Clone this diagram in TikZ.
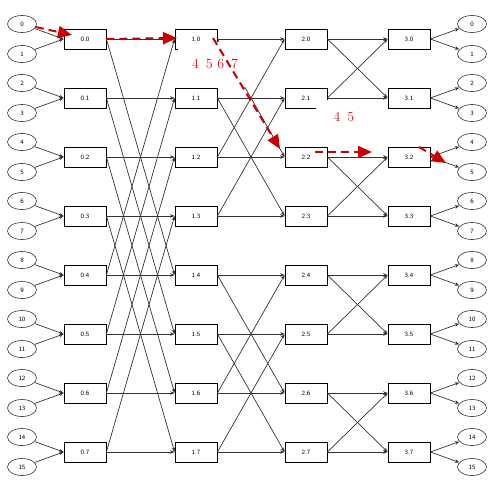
\documentclass[tikz,border=0pt]{standalone}
\usepackage{tikz}
\usetikzlibrary{shapes.geometric, arrows.meta}

\begin{document}
\begin{tikzpicture}[x=1pt, y=-1pt,
    sw/.style={rectangle, draw, line width=0.8pt, minimum width=42pt, minimum height=20pt, inner sep=0pt, font=\sffamily\fontsize{6.5}{7}\selectfont},
    port/.style={ellipse, draw=black!80, line width=0.6pt, minimum width=29pt, minimum height=17pt, inner sep=0pt, font=\sffamily\fontsize{6.5}{7}\selectfont},
    link/.style={-{Stealth[length=4.5pt,width=3.5pt]}, line width=0.7pt, black!80},
    route/.style={line width=2pt, red!80!black, dash pattern=on 8pt off 5pt, -{Triangle[length=14pt,width=12pt]}},
    hop/.style={fill=white, text=red, font=\fontsize{14}{16}\selectfont}]
    \useasboundingbox (0,0) rectangle (500,488);

    % Switches, stages 0 to 3
    \foreach \i in {0,...,7} {
        \node[sw] (SW0\i) at (85,39+59*\i) {0.\i};
        \node[sw] (SW1\i) at (196,39+59*\i) {1.\i};
        \node[sw] (SW2\i) at (306,39+59*\i) {2.\i};
        \node[sw] (SW3\i) at (409,39+59*\i) {3.\i};
    }

    % Inputs and outputs
    \foreach \i [evaluate=\i as \a using int(2*\i), evaluate=\i as \b using int(2*\i+1)] in {0,...,7} {
        \node[port] (IN\a) at (22,24+59*\i) {\a};
        \node[port] (IN\b) at (22,54+59*\i) {\b};
        \node[port] (OUT\a) at (472,24+59*\i) {\a};
        \node[port] (OUT\b) at (472,54+59*\i) {\b};
        \draw[link] (IN\a) -- (SW0\i.west);
        \draw[link] (IN\b) -- (SW0\i.west);
        \draw[link] (SW3\i.east) -- (OUT\a);
        \draw[link] (SW3\i.east) -- (OUT\b);
    }

    % Stage 0 -> 1
    \foreach \a/\b in {0/4,1/5,2/6,3/7,4/0,5/1,6/2,7/3} {
        \draw[link] (SW0\a.east) -- (SW1\a.west);
        \draw[link] (SW0\a.east) -- (SW1\b.west);
    }
    % Stage 1 -> 2
    \foreach \a/\b in {0/2,1/3,2/0,3/1,4/6,5/7,6/4,7/5} {
        \draw[link] (SW1\a.east) -- (SW2\a.west);
        \draw[link] (SW1\a.east) -- (SW2\b.west);
    }
    % Stage 2 -> 3
    \foreach \a/\b in {0/1,1/0,2/3,3/2,4/5,5/4,6/7,7/6} {
        \draw[link] (SW2\a.east) -- (SW3\a.west);
        \draw[link] (SW2\a.east) -- (SW3\b.west);
    }

    % Reachable outputs
    \node[hop, minimum width=74pt, minimum height=45pt] (HOP1) at (215,64) {4 \,5 6 \,7};
    \node[hop, minimum width=57pt, minimum height=34pt] (HOP2) at (344,117) {4 \,5};

    % Route from input 0
    \coordinate (R0) at (72,35);
    \coordinate (R1) at (177,38);
    \coordinate (R2a) at (213,38);
    \coordinate (R2) at (280,149);
    \coordinate (R3a) at (315,152);
    \coordinate (R3) at (372,152);
    \coordinate (R4a) at (419,147);
    \coordinate (R4) at (446,163);
    \draw[route] (IN0) -- (R0);
    \draw[route] (SW00.east) -- (R1);
    \draw[route] (R2a) -- (R2);
    \draw[route] (R3a) -- (R3);
    \draw[route] (R4a) -- (R4);
\end{tikzpicture}
\end{document}
